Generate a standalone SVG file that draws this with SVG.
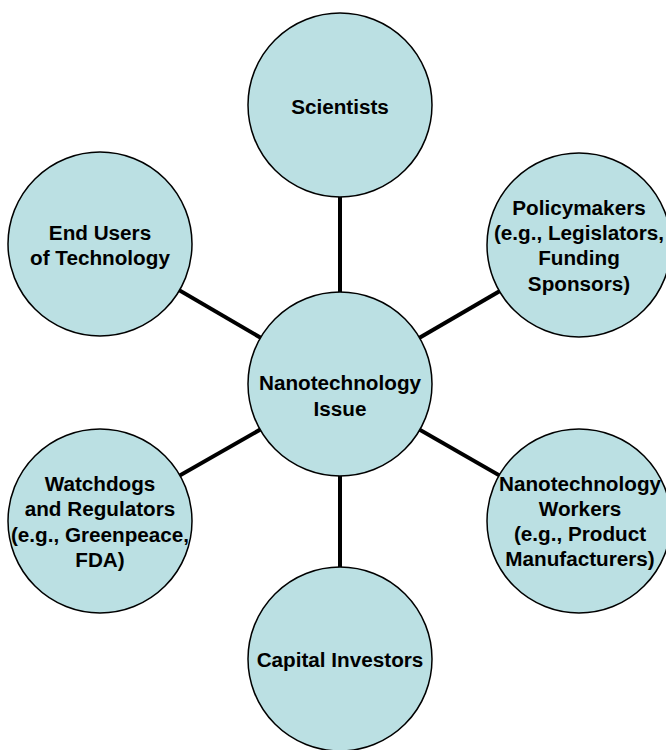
<svg xmlns="http://www.w3.org/2000/svg" width="666" height="750" viewBox="0 0 666 750">
  <style>
    .node circle { fill: #bbe0e3; stroke: #000; stroke-width: 1.5; }
    .node text { font-family: "Liberation Sans", Arial, sans-serif; font-weight: bold; font-size: 20.7px; fill: #000; text-anchor: middle; }
    .links line { stroke: #000; stroke-width: 4; }
  </style>
  <rect width="666" height="750" fill="#fff"/>

  <!-- spokes from the hub to each stakeholder -->
  <g id="connectors" class="links">
    <line x1="340" y1="384" x2="340" y2="105"/>
    <line x1="340" y1="384" x2="340" y2="659"/>
    <line x1="340" y1="384" x2="100" y2="244"/>
    <line x1="340" y1="384" x2="579" y2="245"/>
    <line x1="340" y1="384" x2="100" y2="521"/>
    <line x1="340" y1="384" x2="579" y2="521"/>
  </g>

  <g id="hub" class="node">
    <circle cx="340" cy="384" r="92"/>
    <text x="340" y="390">Nanotechnology</text>
    <text x="340" y="416">Issue</text>
  </g>

  <g id="scientists" class="node">
    <circle cx="340" cy="105" r="92"/>
    <text x="340" y="114">Scientists</text>
  </g>

  <g id="end-users" class="node">
    <circle cx="100" cy="244" r="92"/>
    <text x="100" y="240">End Users</text>
    <text x="100" y="265">of Technology</text>
  </g>

  <g id="policymakers" class="node">
    <circle cx="579" cy="245" r="92"/>
    <text x="579" y="215">Policymakers</text>
    <text x="579" y="240">(e.g., Legislators,</text>
    <text x="579" y="265">Funding</text>
    <text x="579" y="291">Sponsors)</text>
  </g>

  <g id="watchdogs" class="node">
    <circle cx="100" cy="521" r="92"/>
    <text x="100" y="491">Watchdogs</text>
    <text x="100" y="516">and Regulators</text>
    <text x="100" y="542">(e.g., Greenpeace,</text>
    <text x="100" y="567">FDA)</text>
  </g>

  <g id="workers" class="node">
    <circle cx="579" cy="521" r="92"/>
    <text x="580" y="491">Nanotechnology</text>
    <text x="580" y="516">Workers</text>
    <text x="580" y="541">(e.g., Product</text>
    <text x="580" y="566">Manufacturers)</text>
  </g>

  <g id="investors" class="node">
    <circle cx="340" cy="659" r="92"/>
    <text x="340" y="667">Capital Investors</text>
  </g>
</svg>
